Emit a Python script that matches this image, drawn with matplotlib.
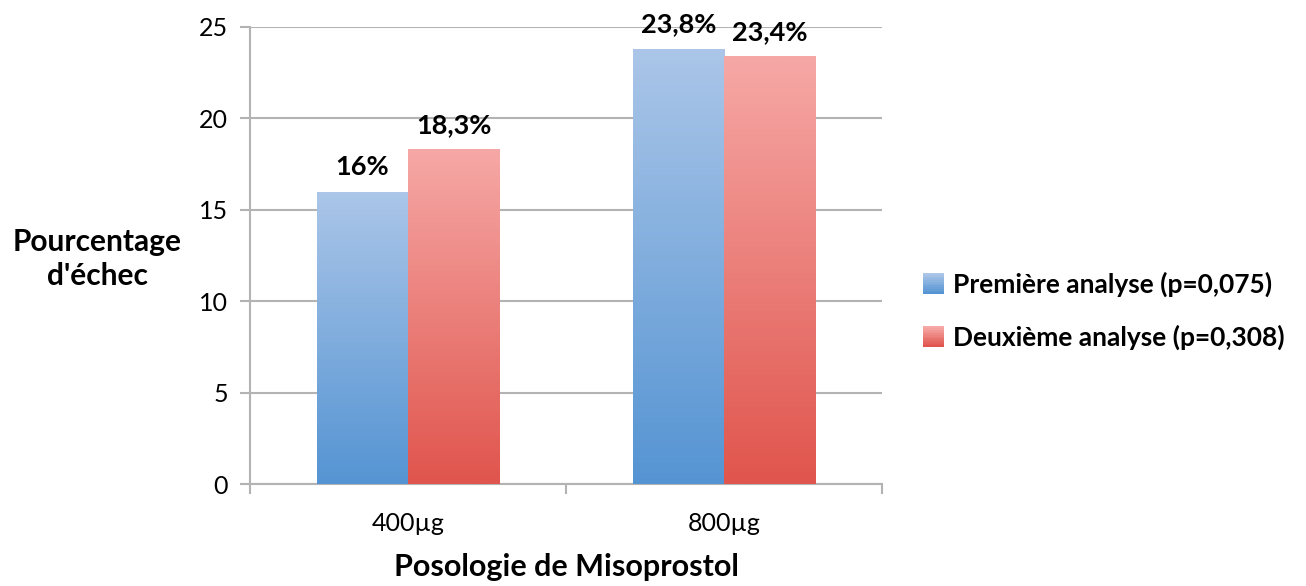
import numpy as np
import matplotlib
matplotlib.use("Agg")
import matplotlib.pyplot as plt
from matplotlib.colors import LinearSegmentedColormap
from matplotlib.legend_handler import HandlerBase
from matplotlib.patches import Rectangle

plt.rcParams['font.family'] = ['Lato', 'DejaVu Sans']

categories = ["400µg", "800µg"]
first_analysis = [16.0, 23.8]
second_analysis = [18.3, 23.4]
first_labels = ["16%", "23,8%"]
second_labels = ["18,3%", "23,4%"]
series_names = ["Première analyse (p=0,075)", "Deuxième analyse (p=0,308)"]
yticks = [0, 5, 10, 15, 20, 25]

blue_top, blue_bottom = "#abc6e8", "#5594d3"
red_top, red_bottom = "#f6a8a6", "#e0554d"

fig = plt.figure(figsize=(13.06, 5.86), dpi=100)
ax = fig.add_axes([250 / 1306, 1 - 484 / 586, 632 / 1306, 457 / 586])

x = np.arange(len(categories))
width = 0.288
grid_col = "#b3b3b3"


def gradient_bar(ax, xc, h, top, bottom):
    bar = ax.bar(xc, h, width, color="none", edgecolor="none", zorder=3)[0]
    cmap = LinearSegmentedColormap.from_list("g", [bottom, top])
    grad = np.linspace(0, 1, 256).reshape(-1, 1)
    im = ax.imshow(grad, cmap=cmap, aspect="auto", origin="lower",
                   extent=[xc - width / 2, xc + width / 2, 0, h], zorder=3)
    im.set_clip_path(bar)
    return bar


for i in range(len(categories)):
    gradient_bar(ax, x[i] - width / 2, first_analysis[i], blue_top, blue_bottom)
    gradient_bar(ax, x[i] + width / 2, second_analysis[i], red_top, red_bottom)
    ax.annotate(first_labels[i], (x[i] - width / 2, first_analysis[i]),
                xytext=(0, 9), textcoords="offset points", ha="center", va="bottom",
                fontsize=19.5, fontweight="bold", zorder=5)
    ax.annotate(second_labels[i], (x[i] + width / 2, second_analysis[i]),
                xytext=(0, 9), textcoords="offset points", ha="center", va="bottom",
                fontsize=19.5, fontweight="bold", zorder=5)

ax.set_xlim(-0.5, 1.5)
ax.set_ylim(0, 25)
ax.set_yticks(yticks)
ax.set_yticklabels([str(t) for t in yticks], fontsize=18)
ax.set_xticks(x)
ax.set_xticklabels(categories, fontsize=18)
ax.xaxis.set_tick_params(length=0, pad=20)
# category separators on the x axis
ax.set_xticks([-0.5, 0.5, 1.5], minor=True)
ax.tick_params(axis="x", which="minor", length=7, color=grid_col, width=1.5)
ax.tick_params(axis="y", length=7, color=grid_col, width=1.5, pad=9)

ax.yaxis.grid(True, color=grid_col, linewidth=1.5, zorder=0)
ax.set_axisbelow(True)
for s in ["top", "right"]:
    ax.spines[s].set_visible(False)
for s in ["left", "bottom"]:
    ax.spines[s].set_color(grid_col)
    ax.spines[s].set_linewidth(1.5)

fig.text(97 / 1306, 1 - 259 / 586, "Pourcentage\nd'échec", ha="center", va="center",
         fontsize=21.5, fontweight="bold", linespacing=1.3)
fig.text(566 / 1306, 1 - 567 / 586, "Posologie de Misoprostol", ha="center", va="center",
         fontsize=22, fontweight="bold")


class GradientHandler(HandlerBase):
    def __init__(self, top, bottom):
        super().__init__()
        self.top, self.bottom = top, bottom

    def create_artists(self, legend, orig_handle, xdescent, ydescent, width, height,
                       fontsize, trans):
        cmap = LinearSegmentedColormap.from_list("g", [self.bottom, self.top])
        size = 15.0
        x0 = -xdescent + width - size
        y0 = -ydescent + (height - size) / 2
        n = 12
        arts = []
        for k in range(n):
            r = Rectangle((x0, y0 + size * k / n), size, size / n + 0.3,
                          facecolor=cmap(k / (n - 1)), edgecolor="none", transform=trans)
            arts.append(r)
        return arts


h1 = Rectangle((0, 0), 1, 1)
h2 = Rectangle((0, 0), 1, 1)
fig.legend([h1, h2], series_names, loc="center left",
           bbox_to_anchor=(900 / 1306, 1 - 311 / 586), frameon=False,
           prop={"size": 19, "weight": "bold"}, handlelength=0.75, handletextpad=0.35,
           labelspacing=1.05,
           handler_map={h1: GradientHandler(blue_top, blue_bottom),
                        h2: GradientHandler(red_top, red_bottom)})

fig.savefig("out.png", dpi=100)
